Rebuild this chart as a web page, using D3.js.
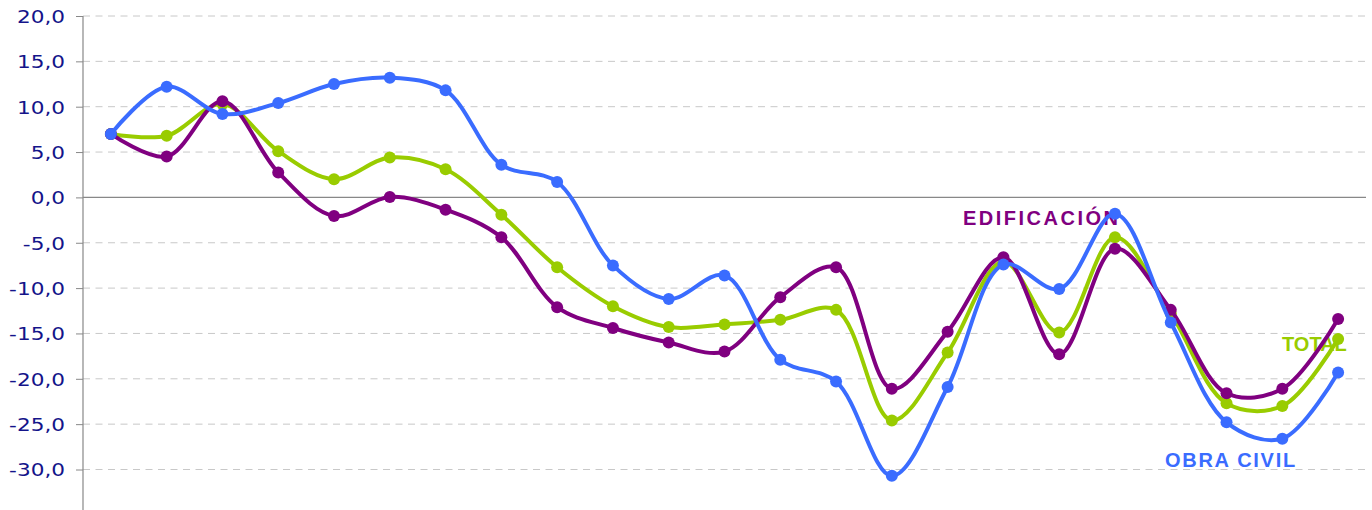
<!DOCTYPE html>
<html lang="es">
<head>
<meta charset="UTF-8">
<title>Edificación, obra civil y total</title>
<script src="https://d3js.org/d3.v7.min.js"></script>
<style>
    body { margin: 0; background: #fff; }
    .tick-label { font-family: "DejaVu Sans", Verdana, sans-serif; font-size: 18px; fill: #14148a; }
    .series-label { font-family: "Liberation Sans", Arial, sans-serif; font-size: 20px; font-weight: bold; }
</style>
</head>
<body>
<script>
    // 23 periods, values
    const periods = d3.range(1, 24).map(String);
    const total = [7.0, 6.8, 10.3, 5.1, 2.0, 4.4, 3.1, -1.9, -7.7, -12.0, -14.3, -14.0, -13.5, -12.4,
                   -24.6, -17.1, -7.1, -14.9, -4.4, -12.8, -22.7, -23.0, -15.6];
    const edificacion = [7.0, 4.5, 10.6, 2.75, -2.05, 0.05, -1.35, -4.4, -12.1, -14.4, -16.0, -17.0, -11.0, -7.7,
                         -21.1, -14.8, -6.6, -17.3, -5.65, -12.4, -21.6, -21.1, -13.4];
    const obraCivil = [7.0, 12.2, 9.2, 10.4, 12.5, 13.2, 11.8, 3.6, 1.7, -7.5, -11.2, -8.6, -17.9, -20.3,
                       -30.7, -20.9, -7.4, -10.1, -1.8, -13.8, -24.8, -26.6, -19.3];
    const yTicks = [20, 15, 10, 5, 0, -5, -10, -15, -20, -25, -30];

    const series = [
        { name: "TOTAL", values: total, color: "#99cc00", labelX: 1282, labelY: 351, spacing: 0 },
        { name: "OBRA CIVIL", values: obraCivil, color: "#3a6cff", labelX: 1165, labelY: 467, spacing: 1.7 },
        { name: "EDIFICACIÓN", values: edificacion, color: "#800080", labelX: 963, labelY: 225, spacing: 2.5 }
    ];
    // drawing order: green, purple, blue on top
    const drawOrder = [series[0], series[2], series[1]];

    const width = 1372, height = 510;
    const plotLeft = 83, plotRight = 1366, plotTop = 16;
    const stretch = 1.2; // tick labels are wide in the original

    const svg = d3.select("body").append("svg")
        .attr("width", width)
        .attr("height", height);

    const x = d3.scaleBand().domain(periods).range([plotLeft, plotRight]);
    const y = d3.scaleLinear().domain([-35, 20]).range([plotTop + 55 * 9.07, plotTop]);

    // grid lines
    svg.append("g")
        .selectAll("line")
        .data(yTicks.filter(d => d !== 0))
        .enter().append("line")
        .attr("x1", plotLeft).attr("x2", plotRight)
        .attr("y1", d => y(d)).attr("y2", d => y(d))
        .attr("stroke", "#c8c8c8")
        .attr("stroke-width", 1)
        .attr("stroke-dasharray", "7,5.5");

    // zero line
    svg.append("line")
        .attr("x1", plotLeft).attr("x2", plotRight)
        .attr("y1", y(0)).attr("y2", y(0))
        .attr("stroke", "#888")
        .attr("stroke-width", 1.2);

    // y axis
    const yAxis = d3.axisLeft(y)
        .tickValues(yTicks)
        .tickSize(7)
        .tickFormat(d => d3.format(".1f")(d).replace(".", ",").replace("−", "-"));

    const axisG = svg.append("g")
        .attr("transform", `translate(${plotLeft},0)`)
        .call(yAxis);
    axisG.select(".domain").remove();
    axisG.selectAll(".tick line").attr("stroke", "#888");
    axisG.selectAll(".tick text")
        .attr("class", "tick-label")
        .attr("x", -18 / stretch)
        .attr("dy", "0.36em")
        .attr("transform", `scale(${stretch},1)`);
    axisG.append("line")
        .attr("x1", 0).attr("x2", 0)
        .attr("y1", plotTop).attr("y2", height)
        .attr("stroke", "#888")
        .attr("stroke-width", 1.2);

    // series labels (under the lines)
    svg.append("g")
        .selectAll("text")
        .data(series)
        .enter().append("text")
        .attr("class", "series-label")
        .attr("x", d => d.labelX)
        .attr("y", d => d.labelY)
        .attr("fill", d => d.color)
        .style("letter-spacing", d => d.spacing + "px")
        .text(d => d.name);

    const line = d3.line()
        .x((d, i) => x(periods[i]) + x.bandwidth() / 2)
        .y(d => y(d))
        .curve(d3.curveCatmullRom.alpha(0.5));

    drawOrder.forEach(s => {
        const g = svg.append("g");
        g.append("path")
            .datum(s.values)
            .attr("fill", "none")
            .attr("stroke", s.color)
            .attr("stroke-width", 4)
            .attr("stroke-linejoin", "round")
            .attr("d", line);
        g.selectAll("circle")
            .data(s.values)
            .enter().append("circle")
            .attr("cx", (d, i) => x(periods[i]) + x.bandwidth() / 2)
            .attr("cy", d => y(d))
            .attr("r", 6)
            .attr("fill", s.color);
    });
</script>
</body>
</html>
